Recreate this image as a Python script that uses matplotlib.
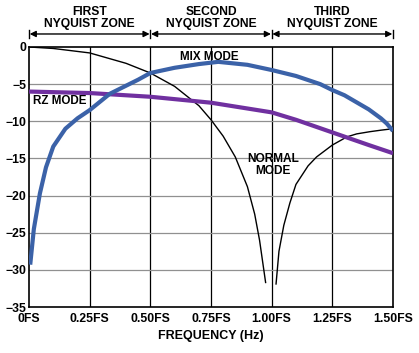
import matplotlib
matplotlib.use("Agg")
import matplotlib.pyplot as plt

plt.rcParams["font.family"] = ["Liberation Sans", "DejaVu Sans"]
plt.rcParams["font.weight"] = "bold"

# 读图得到的数据 (频率 FS, dB)
normal_f = [0.0, 0.1, 0.25, 0.4, 0.5, 0.6, 0.7, 0.75, 0.8, 0.85, 0.9, 0.93, 0.95, 0.975]
normal_db = [0.0, -0.2, -0.8, -2.2, -3.5, -5.3, -7.9, -9.8, -12.0, -14.8, -18.8, -22.5, -26.0, -31.7]
normal2_f = [1.018, 1.03, 1.05, 1.075, 1.1, 1.15, 1.185, 1.25, 1.31, 1.35, 1.405, 1.45, 1.5]
normal2_db = [-31.9, -27.5, -24.0, -21.0, -18.5, -16.0, -14.8, -13.2, -12.1, -11.7, -11.4, -11.2, -11.0]

mix_f = [0.005, 0.02, 0.045, 0.07, 0.1, 0.15, 0.2, 0.25, 0.333, 0.45, 0.5, 0.6, 0.7, 0.78,
         0.9, 1.0, 1.1, 1.2, 1.25, 1.3, 1.4, 1.45, 1.474, 1.5]
mix_db = [-29.3, -24.5, -19.7, -16.2, -13.4, -11.0, -9.6, -8.5, -6.3, -4.4, -3.5, -2.8, -2.3, -2.0,
          -2.4, -3.1, -3.9, -5.0, -5.8, -6.5, -8.4, -9.6, -10.3, -11.3]

rz_f = [0.0, 0.25, 0.5, 0.75, 1.0, 1.1, 1.25, 1.4, 1.5]
rz_db = [-6.0, -6.2, -6.7, -7.5, -8.8, -9.8, -11.5, -13.2, -14.3]

xticks = [0, 0.25, 0.5, 0.75, 1.0, 1.25, 1.5]
xtick_labels = ["0FS", "0.25FS", "0.50FS", "0.75FS", "1.00FS", "1.25FS", "1.50FS"]
yticks = [0, -5, -10, -15, -20, -25, -30, -35]
ytick_labels = ["0", "\u22125", "\u221210", "\u221215", "\u221220", "\u221225", "\u221230", "\u221235"]

zone_edges = [0, 0.5, 1.0, 1.5]
zone_names = ["FIRST\nNYQUIST ZONE", "SECOND\nNYQUIST ZONE", "THIRD\nNYQUIST ZONE"]

fig = plt.figure(figsize=(4.19, 3.53), dpi=100)
ax = fig.add_axes([0.0692, 0.1303, 0.8688, 0.7366])

ax.set_xlim(0, 1.5)
ax.set_ylim(-35, 0)
for x in xticks[1:-1]:
    ax.axvline(x, color="black", lw=0.9, zorder=1)
for y in yticks[1:-1]:
    ax.axhline(y, color="#909090", lw=0.9, zorder=1)

ax.plot(normal_f, normal_db, color="black", lw=1.0, zorder=3)
ax.plot(normal2_f, normal2_db, color="black", lw=1.0, zorder=3)
ax.plot(rz_f, rz_db, color="#7030a0", lw=3.0, zorder=4, solid_capstyle="butt")
ax.plot(mix_f, mix_db, color="#3b62a8", lw=3.0, zorder=5, solid_capstyle="butt")

ax.set_xticks(xticks)
ax.set_xticklabels(xtick_labels, fontsize=8.8, fontweight="bold")
ax.set_yticks(yticks)
ax.set_yticklabels(ytick_labels, fontsize=8.8, fontweight="bold")
ax.tick_params(axis="x", length=0, pad=4)
ax.tick_params(axis="y", length=0, pad=2)
for s in ax.spines.values():
    s.set_linewidth(1.2)

ax.set_xlabel("FREQUENCY (Hz)", fontsize=9, fontweight="bold", labelpad=4)

# 文字标注
ax.text(0.745, -1.3, "MIX MODE", fontsize=8.4, fontweight="bold", ha="center", va="center", zorder=6)
ax.text(0.015, -7.3, "RZ MODE", fontsize=8.4, fontweight="bold", ha="left", va="center", zorder=6)
ax.text(1.005, -15.9, "NORMAL\nMODE", fontsize=8.6, fontweight="bold", ha="center", va="center",
        linespacing=0.95, zorder=6)

# 奈奎斯特区标题与双箭头
ya = 1.75
for i in range(3):
    x0, x1 = zone_edges[i], zone_edges[i + 1]
    ax.annotate("", xy=(x1, ya), xytext=(x0, ya), annotation_clip=False,
                arrowprops=dict(arrowstyle="<|-|>", color="black", lw=1.0,
                                mutation_scale=9, shrinkA=0.5, shrinkB=0.5))
    ax.text((x0 + x1) / 2, 3.9, zone_names[i], fontsize=8.7, fontweight="bold",
            ha="center", va="center", linespacing=0.95, clip_on=False)
for x in zone_edges:
    ax.plot([x, x], [ya - 0.55, ya + 0.55], color="black", lw=1.0, clip_on=False)

fig.savefig("out.png", dpi=100)
